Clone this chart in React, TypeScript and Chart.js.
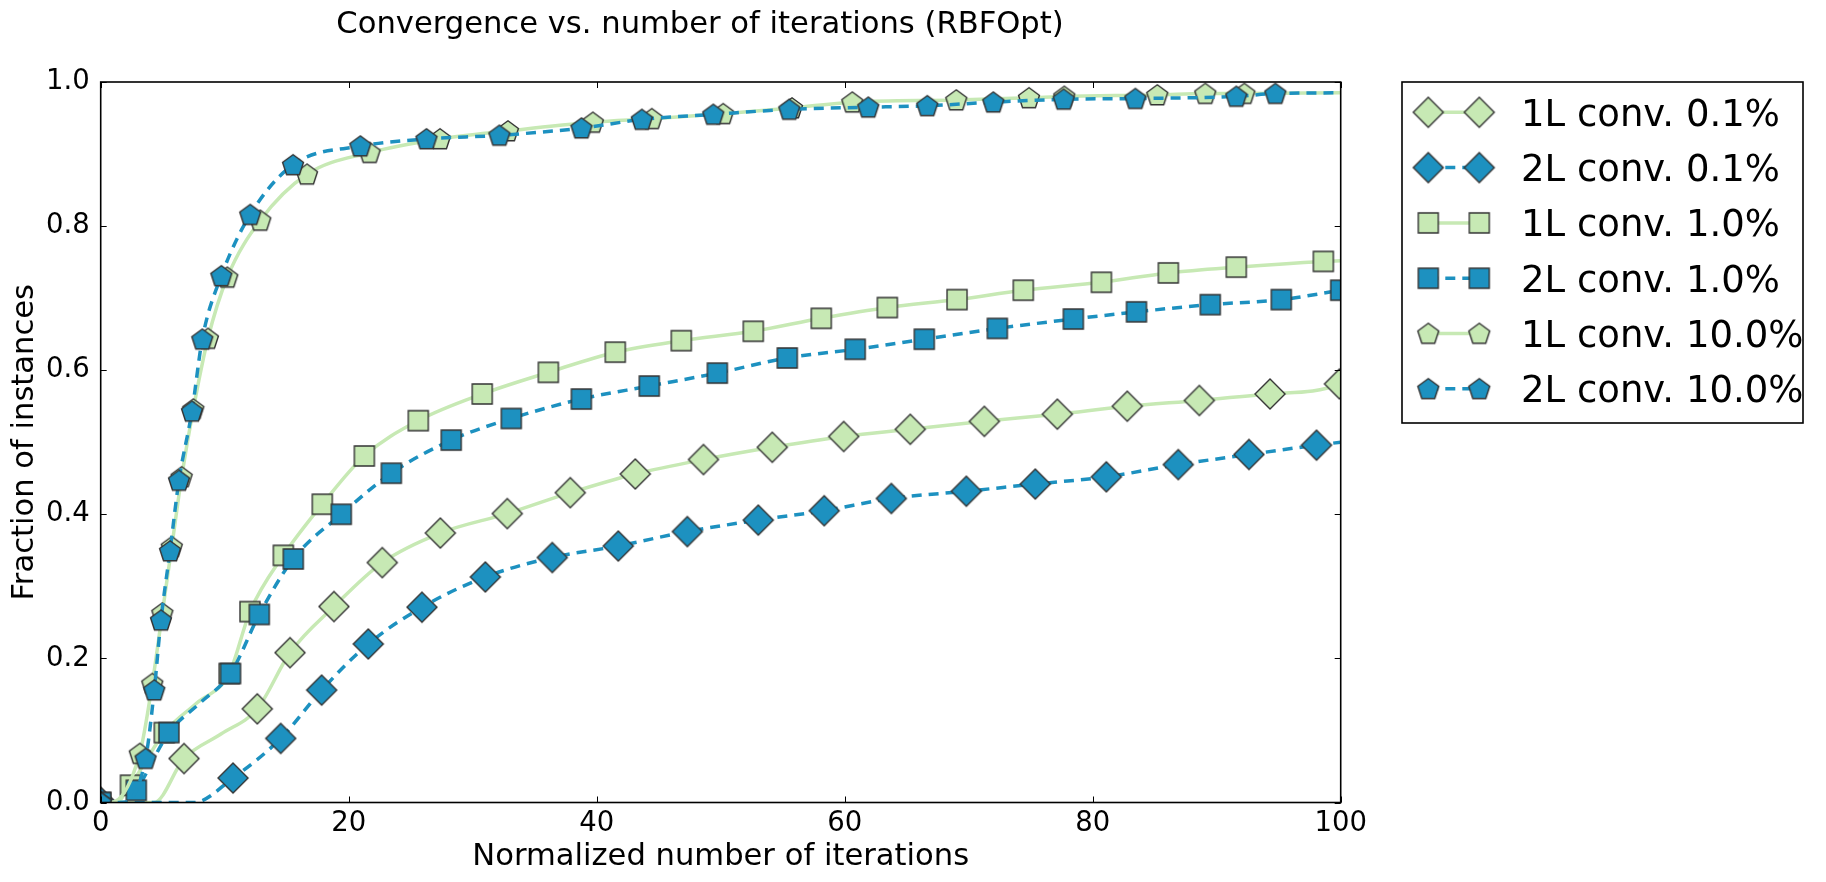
import React, { useEffect, useRef } from 'react';
import { Chart, registerables } from 'chart.js';
Chart.register(...registerables);

const FONT = 'DejaVu Sans';
const GREEN = '#c7e9b4';
const BLUE = '#1d91c0';
const EDGE = '#333333';

const chartTitle = 'Convergence vs. number of iterations (RBFOpt)';
const xAxisTitle = 'Normalized number of iterations';
const yAxisTitle = 'Fraction of instances';
const xTicks = [0, 20, 40, 60, 80, 100];
const yTicks = [0, 0.2, 0.4, 0.6, 0.8, 1.0];
const seriesLabels = ['1L conv. 0.1%', '2L conv. 0.1%', '1L conv. 1.0%', '2L conv. 1.0%', '1L conv. 10.0%', '2L conv. 10.0%'];

type P = [number, number];

// marker points of each series
const markers1L01: P[] = [[0, 0], [6.72, 0.061], [12.63, 0.13], [15.27, 0.208], [18.81, 0.272], [22.71, 0.333], [27.39, 0.374], [32.79, 0.401], [37.87, 0.43], [43.11, 0.456], [48.61, 0.476], [54.16, 0.493], [59.92, 0.508], [65.29, 0.518], [71.26, 0.529], [77.15, 0.539], [82.79, 0.55], [88.6, 0.558], [94.3, 0.567], [99.9, 0.581]];
const markers2L01: P[] = [[0, 0], [10.67, 0.034], [14.52, 0.089], [17.82, 0.156], [21.58, 0.22], [25.91, 0.271], [31.02, 0.313], [36.42, 0.34], [41.74, 0.356], [47.31, 0.376], [53.03, 0.392], [58.35, 0.405], [63.76, 0.422], [69.81, 0.432], [75.37, 0.442], [81.1, 0.452], [86.9, 0.469], [92.6, 0.483], [98.05, 0.496]];
const markers1L1: P[] = [[0, 0], [2.4, 0.024], [5.13, 0.097], [10.36, 0.179], [12.04, 0.265], [14.73, 0.343], [17.87, 0.414], [21.26, 0.481], [25.61, 0.53], [30.77, 0.567], [36.1, 0.597], [41.5, 0.625], [46.82, 0.641], [52.63, 0.654], [58.11, 0.672], [63.44, 0.687], [69.06, 0.698], [74.4, 0.711], [80.7, 0.722], [86.1, 0.735], [91.58, 0.743], [98.6, 0.751]];
const markers2L1: P[] = [[0, 0], [2.87, 0.017], [5.5, 0.097], [10.47, 0.179], [12.79, 0.261], [15.53, 0.338], [19.4, 0.4], [23.44, 0.457], [28.27, 0.503], [33.11, 0.533], [38.76, 0.56], [44.24, 0.578], [49.73, 0.596], [55.37, 0.617], [60.85, 0.629], [66.42, 0.643], [72.31, 0.658], [78.44, 0.671], [83.53, 0.681], [89.48, 0.691], [95.21, 0.698], [100, 0.711]];
const markers1L10: P[] = [[0, 0], [3.15, 0.068], [4.16, 0.165], [4.97, 0.263], [5.73, 0.355], [6.53, 0.452], [7.47, 0.546], [8.65, 0.644], [10.21, 0.729], [12.87, 0.808], [16.64, 0.872], [21.69, 0.902], [27.36, 0.921], [32.84, 0.932], [39.69, 0.944], [44.44, 0.949], [50.2, 0.956], [55.75, 0.964], [60.61, 0.972], [69.0, 0.975], [74.86, 0.978], [77.71, 0.98], [85.21, 0.982], [89.08, 0.984], [92.23, 0.984]];
const markers2L10: P[] = [[0, 0], [3.62, 0.061], [4.32, 0.156], [4.86, 0.253], [5.59, 0.349], [6.31, 0.447], [7.36, 0.543], [8.19, 0.643], [9.73, 0.731], [12.06, 0.816], [15.51, 0.885], [20.94, 0.911], [26.27, 0.921], [32.15, 0.926], [38.77, 0.936], [43.64, 0.948], [49.4, 0.955], [55.53, 0.962], [61.9, 0.965], [66.66, 0.967], [71.98, 0.972], [77.66, 0.976], [83.44, 0.977], [91.58, 0.98], [94.73, 0.984]];

// extra points of each curve that carry no marker
const curve1L01: P[] = [[4.3, 0], [9.7, 0.095], [100, 0.583]];
const curve2L01: P[] = [[7.5, 0], [100, 0.5]];
const curve1L1: P[] = [[1.2, 0], [7.75, 0.138], [100, 0.752]];
const curve2L1: P[] = [[2.0, 0], [8.0, 0.138]];
const curve1L10: P[] = [[0.8, 0], [100, 0.985]];
const curve2L10: P[] = [[1.8, 0], [100, 0.985]];

const seriesMarkers = [markers1L01, markers2L01, markers1L1, markers2L1, markers1L10, markers2L10];
const seriesCurves = [curve1L01, curve2L01, curve1L1, curve2L1, curve1L10, curve2L10];
const seriesShape = ['diamond', 'diamond', 'square', 'square', 'pentagon', 'pentagon'];
const seriesBlue = [false, true, false, true, false, true];

function makeMarker(shape: string, fill: string): HTMLCanvasElement {
  const c = document.createElement('canvas');
  const S = 34;
  c.width = S;
  c.height = S;
  const g = c.getContext('2d')!;
  const m = S / 2;
  g.beginPath();
  if (shape === 'diamond') {
    const r = 15;
    g.moveTo(m, m - r); g.lineTo(m + r, m); g.lineTo(m, m + r); g.lineTo(m - r, m); g.closePath();
  } else if (shape === 'square') {
    const h = 10;
    g.rect(m - h, m - h, 2 * h, 2 * h);
  } else {
    const R = 11;
    for (let i = 0; i < 5; i++) {
      const a = -Math.PI / 2 + (i * 2 * Math.PI) / 5;
      const px = m + R * Math.cos(a);
      const py = m + R * Math.sin(a) + 0.8;
      if (i === 0) g.moveTo(px, py); else g.lineTo(px, py);
    }
    g.closePath();
  }
  g.fillStyle = fill;
  g.fill();
  g.lineWidth = 1.4;
  g.strokeStyle = EDGE;
  g.lineJoin = 'miter';
  g.stroke();
  return c;
}

export default function App() {
  const ref = useRef<HTMLCanvasElement | null>(null);
  useEffect(() => {
    document.body.style.margin = '0';
    const canvas = ref.current!;
    const imgs = seriesShape.map((s, i) => makeMarker(s, seriesBlue[i] ? BLUE : GREEN));

    const datasets = seriesLabels.map((label, i) => {
      const pts = [
        ...seriesMarkers[i].map(([x, y]) => ({ x, y, m: true })),
        ...seriesCurves[i].map(([x, y]) => ({ x, y, m: false })),
      ].sort((a, b) => a.x - b.x);
      return {
        label,
        data: pts,
        borderColor: seriesBlue[i] ? BLUE : GREEN,
        borderWidth: 3.5,
        borderDash: seriesBlue[i] ? [10, 7] : [],
        borderCapStyle: 'butt' as const,
        cubicInterpolationMode: 'monotone' as const,
        fill: false,
        pointStyle: imgs[i],
        pointRadius: (ctx: any) => (ctx.raw && ctx.raw.m ? 10 : 0),
        pointHoverRadius: 0,
        clip: 0,
        order: 5 - i,
      };
    });

    const framePlugin = {
      id: 'frame',
      afterDatasetsDraw(chart: any) {
        const { ctx, chartArea: a, scales } = chart;
        const xs = scales.x, ys = scales.y;
        ctx.save();
        // inward ticks
        ctx.strokeStyle = '#000';
        ctx.lineWidth = 1;
        const tl = 6;
        xTicks.forEach((v) => {
          const px = Math.round(xs.getPixelForValue(v)) + 0.5;
          ctx.beginPath();
          ctx.moveTo(px, a.bottom); ctx.lineTo(px, a.bottom - tl);
          ctx.moveTo(px, a.top); ctx.lineTo(px, a.top + tl);
          ctx.stroke();
        });
        yTicks.forEach((v) => {
          const py = Math.round(ys.getPixelForValue(v)) + 0.5;
          ctx.beginPath();
          ctx.moveTo(a.left, py); ctx.lineTo(a.left + tl, py);
          ctx.moveTo(a.right, py); ctx.lineTo(a.right - tl, py);
          ctx.stroke();
        });
        // spines
        ctx.lineWidth = 1.6;
        ctx.strokeRect(a.left, a.top, a.right - a.left, a.bottom - a.top);

        // title
        ctx.fillStyle = '#000';
        ctx.font = `30.6px "${FONT}"`;
        ctx.textAlign = 'center';
        ctx.textBaseline = 'alphabetic';
        ctx.fillText(chartTitle, 700, 33);

        // legend
        const lx = 1402, ly = 82, lw = 401, lh = 341;
        ctx.fillStyle = '#fff';
        ctx.fillRect(lx, ly, lw, lh);
        ctx.lineWidth = 1.6;
        ctx.strokeStyle = '#000';
        ctx.strokeRect(lx, ly, lw, lh);
        seriesLabels.forEach((label, i) => {
          const cy = 112.3 + i * 55.3;
          const x1 = 1428.3, x2 = 1479.3;
          ctx.save();
          ctx.strokeStyle = seriesBlue[i] ? BLUE : GREEN;
          ctx.lineWidth = 3.5;
          ctx.setLineDash(seriesBlue[i] ? [10, 7] : []);
          ctx.beginPath();
          ctx.moveTo(x1, cy); ctx.lineTo(x2, cy);
          ctx.stroke();
          ctx.restore();
          const im = imgs[i];
          ctx.drawImage(im, x1 - im.width / 2, cy - im.height / 2);
          ctx.drawImage(im, x2 - im.width / 2, cy - im.height / 2);
          ctx.fillStyle = '#000';
          ctx.font = `37px "${FONT}"`;
          ctx.textAlign = 'left';
          ctx.textBaseline = 'alphabetic';
          ctx.fillText(label, 1521, cy + 13.5);
        });
        ctx.restore();
      },
    };

    const chart = new Chart(canvas, {
      type: 'line',
      data: { datasets: datasets as any },
      options: {
        animation: false,
        responsive: false,
        devicePixelRatio: 1,
        events: [],
        layout: { padding: { left: 0, top: 82, right: 1826 - 1340.7, bottom: 0 } },
        plugins: { legend: { display: false }, tooltip: { enabled: false }, title: { display: false } },
        scales: {
          x: {
            type: 'linear',
            min: 0,
            max: 100,
            afterFit: (s: any) => { s.height = 882 - 802.5; },
            afterBuildTicks: (s: any) => { s.ticks = xTicks.map((v) => ({ value: v })); },
            ticks: { font: { family: FONT, size: 27.5 }, color: '#000', padding: 5, maxRotation: 0, autoSkip: false, callback: (v: any) => String(v) },
            grid: { display: false, drawTicks: false },
            border: { display: false },
            title: { display: true, text: xAxisTitle, font: { family: FONT, size: 30.6 }, color: '#000', padding: { top: 0, bottom: 7 } },
          },
          y: {
            type: 'linear',
            min: 0,
            max: 1,
            afterFit: (s: any) => { s.width = 100.7; },
            afterBuildTicks: (s: any) => { s.ticks = yTicks.map((v) => ({ value: v })); },
            ticks: { font: { family: FONT, size: 27.5 }, color: '#000', padding: 11, autoSkip: false, callback: (v: any) => Number(v).toFixed(1) },
            grid: { display: false, drawTicks: false },
            border: { display: false },
            title: { display: true, text: yAxisTitle, font: { family: FONT, size: 30.6 }, color: '#000', padding: { top: 7, bottom: 0 } },
          },
        },
      },
      plugins: [framePlugin],
    });
    return () => chart.destroy();
  }, []);

  return (
    <div style={{ width: 1826, height: 882, background: '#fff' }}>
      <canvas ref={ref} width={1826} height={882} style={{ display: 'block', width: 1826, height: 882 }} />
    </div>
  );
}
